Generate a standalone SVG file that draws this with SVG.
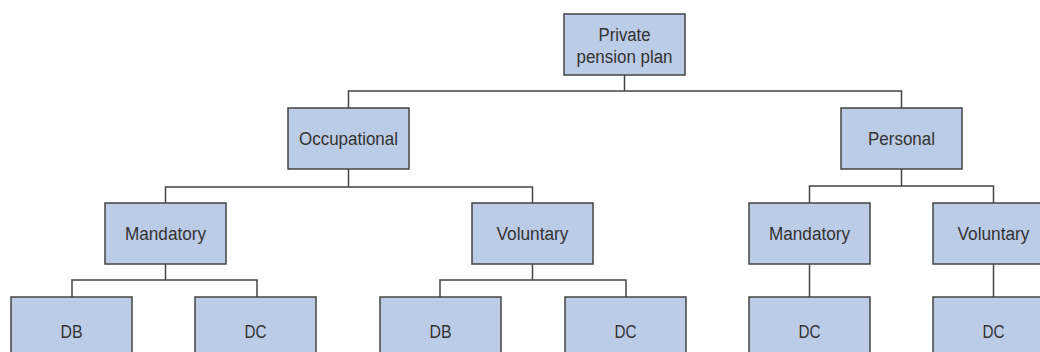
<svg xmlns="http://www.w3.org/2000/svg" width="1040" height="352" viewBox="0 0 1040 352">
<style>
.box{fill:#bccbe6;stroke:#444;stroke-width:1.5}
.lbl{font-family:"Liberation Sans",Arial,sans-serif;font-size:18px;fill:#333;text-anchor:middle}
.con{fill:none;stroke:#444;stroke-width:1.5}
</style>
<rect width="1040" height="352" fill="#fff"/>
<g id="connectors" class="con">
<path d="M624.5 75V91M348.5 108V91H901.5V108"/>
<path d="M348.5 169V187M165.5 203V187H532.5V203"/>
<path d="M901.5 169V186M809.5 203V186H993.5V203"/>
<path d="M165.5 264V280M72 297V280H257V297"/>
<path d="M532.5 264V280M440 297V280H626V297"/>
<path d="M809.5 264V297"/>
<path d="M993.5 264V297"/>
</g>
<g id="n-private"><rect class="box" x="564" y="14" width="121" height="61"/><text class="lbl" x="624.5" y="40.5" textLength="52" lengthAdjust="spacingAndGlyphs">Private</text><text class="lbl" x="624.5" y="63" textLength="96" lengthAdjust="spacingAndGlyphs">pension plan</text></g>
<g id="n-occupational"><rect class="box" x="288" y="108" width="121" height="61"/><text class="lbl" x="348.5" y="145" textLength="99" lengthAdjust="spacingAndGlyphs">Occupational</text></g>
<g id="n-personal"><rect class="box" x="841" y="108" width="121" height="61"/><text class="lbl" x="901.5" y="145" textLength="67" lengthAdjust="spacingAndGlyphs">Personal</text></g>
<g id="n-occ-mandatory"><rect class="box" x="105" y="203" width="121" height="61"/><text class="lbl" x="165.5" y="240" textLength="81" lengthAdjust="spacingAndGlyphs">Mandatory</text></g>
<g id="n-occ-voluntary"><rect class="box" x="472" y="203" width="121" height="61"/><text class="lbl" x="532.5" y="240" textLength="72" lengthAdjust="spacingAndGlyphs">Voluntary</text></g>
<g id="n-pers-mandatory"><rect class="box" x="749" y="203" width="121" height="61"/><text class="lbl" x="809.5" y="240" textLength="81" lengthAdjust="spacingAndGlyphs">Mandatory</text></g>
<g id="n-pers-voluntary"><rect class="box" x="933" y="203" width="121" height="61"/><text class="lbl" x="993.5" y="240" textLength="72" lengthAdjust="spacingAndGlyphs">Voluntary</text></g>
<g id="n-db1"><rect class="box" x="11" y="297" width="121" height="61"/><text class="lbl" x="71.5" y="338" textLength="22" lengthAdjust="spacingAndGlyphs">DB</text></g>
<g id="n-dc1"><rect class="box" x="195" y="297" width="121" height="61"/><text class="lbl" x="255.5" y="338" textLength="22" lengthAdjust="spacingAndGlyphs">DC</text></g>
<g id="n-db2"><rect class="box" x="380" y="297" width="121" height="61"/><text class="lbl" x="440.5" y="338" textLength="22" lengthAdjust="spacingAndGlyphs">DB</text></g>
<g id="n-dc2"><rect class="box" x="565" y="297" width="121" height="61"/><text class="lbl" x="625.5" y="338" textLength="22" lengthAdjust="spacingAndGlyphs">DC</text></g>
<g id="n-dc3"><rect class="box" x="749" y="297" width="121" height="61"/><text class="lbl" x="809.5" y="338" textLength="22" lengthAdjust="spacingAndGlyphs">DC</text></g>
<g id="n-dc4"><rect class="box" x="933" y="297" width="121" height="61"/><text class="lbl" x="993.5" y="338" textLength="22" lengthAdjust="spacingAndGlyphs">DC</text></g>
</svg>
